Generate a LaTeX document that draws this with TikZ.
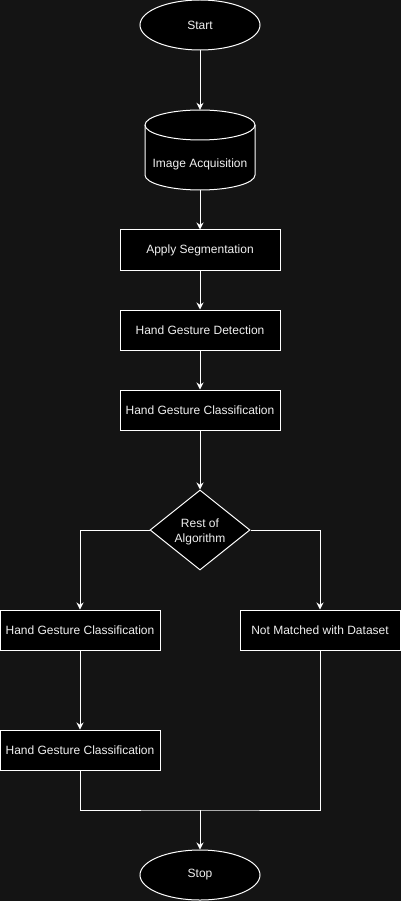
\documentclass[tikz,border=0pt]{standalone}
\usepackage{fontspec}
\setmainfont{Liberation Sans}
\usetikzlibrary{shapes.geometric,arrows.meta}
\definecolor{bg}{HTML}{141414}
\definecolor{tx}{HTML}{F0F0F0}
\begin{document}
\begin{tikzpicture}[x=1pt,y=-1pt,
  every node/.style={font=\fontsize{12}{15}\selectfont, text=tx},
  box/.style={rectangle, draw=white, fill=black, line width=1pt, minimum width=160pt, minimum height=40pt, inner sep=0pt},
  term/.style={ellipse, draw=white, fill=black, line width=1pt, minimum width=120pt, minimum height=50pt, inner sep=0pt},
  dec/.style={diamond, draw=white, fill=black, line width=1pt, minimum width=100pt, minimum height=80pt, inner sep=0pt, aspect=1.25},
  arr/.style={draw=white, line width=1pt, -{Stealth[length=7pt,width=7pt]}},
  ln/.style={draw=white, line width=1pt}]
\fill[bg] (0,0) rectangle (401,901);
\useasboundingbox (0,0) rectangle (401,901);

\node[term] (start) at (200,25) {Start};

% cylinder
\path[draw=white, fill=black, line width=1pt]
  (145,125) -- (145,175) arc[start angle=180, end angle=360, x radius=55pt, y radius=15pt]
  -- (255,125) arc[start angle=0, end angle=180, x radius=55pt, y radius=15pt] -- cycle;
\draw[white, line width=1pt] (145,125) arc[start angle=180, end angle=360, x radius=55pt, y radius=15pt];
\node[rectangle, minimum width=110pt, minimum height=80pt, inner sep=0pt] (acq) at (200,150) {};
\node (acqtext) at (200,164) {Image Acquisition};

\node[box] (seg) at (200,250) {Apply Segmentation};
\node[box] (det) at (200,330) {Hand Gesture Detection};
\node[box] (cls) at (200,410) {Hand Gesture Classification};
\node[dec] (dec) at (200,530) {};
\node[align=center] (dectext) at (200,531.5) {Rest of\\Algorithm};
\node[box] (l1) at (80,630) {Hand Gesture Classification};
\node[box] (r1) at (320,630) {Not Matched with Dataset};
\node[box] (l2) at (80,750) {Hand Gesture Classification};
\node[term] (stop) at (200,875) {Stop};
\coordinate (m) at (200,810);

\draw[arr] (start) -- (acq);
\draw[arr] (acq) -- (seg);
\draw[arr] (seg) -- (det);
\draw[arr] (det) -- (cls);
\draw[arr] (cls) -- (dec);
\draw[arr] (dec.west) -| (l1.north);
\draw[arr] (dec.east) -| (r1.north);
\draw[arr] (l1) -- (l2);
\draw[ln] (l2.south) |- (m) -| (r1.south);
\draw[arr] (m) -- (stop);
\end{tikzpicture}
\end{document}
